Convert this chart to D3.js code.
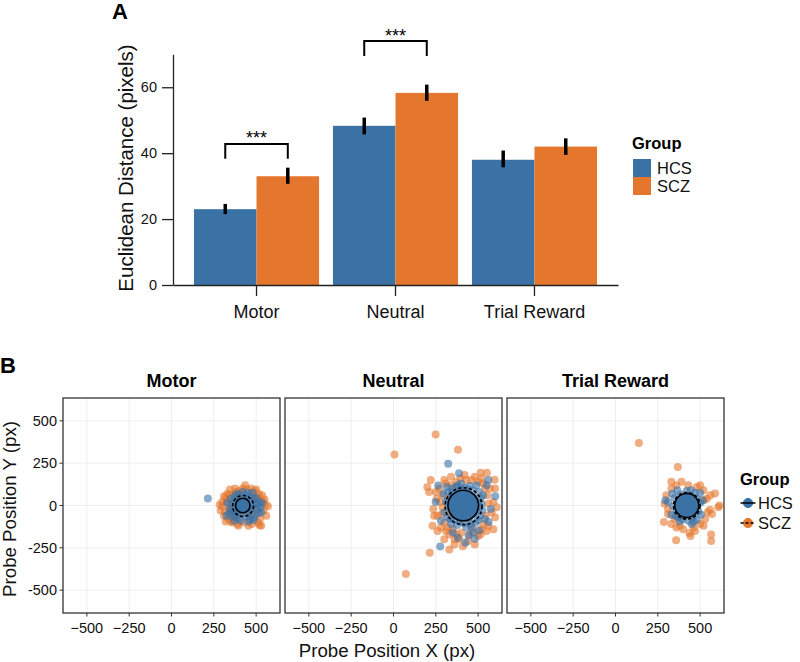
<!DOCTYPE html>
<html>
<head>
<meta charset="utf-8">
<script src="https://cdn.jsdelivr.net/npm/d3@7"></script>
<style>
  html, body { margin: 0; padding: 0; background: #fff; }
  svg { display: block; font-family: "Liberation Sans", Arial, Helvetica, sans-serif; }
</style>
</head>
<body>
<svg id="chart" width="800" height="662"></svg>
<script>
// ---------------- DATA ----------------
const categories = ["Motor", "Neutral", "Trial Reward"];
const groups = ["HCS", "SCZ"];
const colors = ["#3a72a5", "#e5762d"];

// Panel A: mean Euclidean distance (pixels) and error bar bounds
const hcsMeans = [23.0, 48.3, 38.0];
const sczMeans = [33.0, 58.3, 42.0];
const hcsLow = [21.5, 45.7, 35.7];
const hcsHigh = [24.6, 50.8, 40.8];
const sczLow = [30.7, 55.9, 39.5];
const sczHigh = [35.6, 60.8, 44.5];
const yTicksA = [0, 20, 40, 60];
// significance brackets: category, bracket top, leg bottom, label
const sigCats = ["Motor", "Neutral"];
const sigTop = [42.8, 74.0];
const sigBottom = [38.3, 69.5];
const sigLabels = ["***", "***"];

// Panel B: probe positions (px)
const axisTicksB = [-500, -250, 0, 250, 500];

const motorHCS = [[215,42],[425,0],[445,10],[400,15],[455,-20],[410,-30],[470,25],[380,-10],[435,45],[415,-50],[480,-5],[370,30],[460,50],[390,-45],[485,40],[365,-35],[495,10],[355,5],[440,-65],[405,60],[475,-50],[375,55],[505,-25],[345,-20],[450,75],[395,-75],[500,45],[350,40],[510,5],[340,-45],[465,-80],[420,80],[515,-45],[385,70],[490,-70],[360,-65],[520,20],[525,-10],[330,15],[480,75],[410,-90],[530,-40],[325,-60],[455,-95],[485,-85],[370,-90],[535,15],[430,25],[415,-20],[395,-5],[450,-40],[390,40],[470,-20],[375,-55],[440,60]];
const motorSCZ = [[290,-30],[300,20],[310,-60],[320,45],[330,70],[335,-80],[345,95],[350,-95],[360,-100],[375,100],[390,-110],[400,85],[420,100],[430,-100],[445,95],[470,100],[475,-110],[490,85],[500,95],[510,-100],[520,-115],[530,-120],[540,25],[545,-30],[555,5],[570,-5],[560,-60],[535,60],[515,70],[300,-5],[315,-35],[325,25],[340,60],[355,-55],[365,65],[380,-70],[395,-55],[460,-60],[480,55],[495,-55],[505,40],[525,-75],[550,35],[310,55],[285,5],[340,-10],[320,-95],[455,-120],[395,-120],[435,120],[380,80],[365,20],[350,-30],[500,-20],[520,50]];

const neutralHCS = [[412,0],[440,20],[385,-20],[430,-40],[395,40],[460,-10],[365,10],[420,60],[405,-65],[475,45],[350,-30],[445,-75],[380,75],[490,-35],[340,50],[470,90],[360,-85],[500,20],[330,-10],[420,105],[415,-105],[510,-60],[325,80],[505,80],[320,-70],[455,-110],[370,110],[520,10],[310,20],[375,-115],[485,-100],[450,115],[350,100],[525,-30],[300,-40],[340,-110],[530,60],[315,110],[490,120],[400,130],[430,-130],[540,-80],[295,70],[395,-95],[440,95],[505,-10],[320,30],[360,-50],[470,-50],[400,95],[335,-80],[500,-85],[515,45],[345,75],[460,-125],[380,120],[323,246],[387,191],[276,-242],[264,118],[249,20],[601,55],[562,-98],[505,-148],[443,-175],[425,-220],[480,-196],[350,-160],[550,120],[575,-20],[280,-90],[560,150],[380,-190],[470,-160]];
const neutralSCZ = [[249,419],[6,301],[381,329],[73,-405],[214,-279],[515,193],[552,193],[597,152],[200,110],[210,80],[330,-260],[360,-230],[300,-200],[550,-150],[600,-70],[590,-140],[230,-120],[260,-150],[240,-60],[220,150],[300,150],[340,170],[420,180],[480,170],[520,160],[570,100],[590,20],[580,-40],[560,-120],[500,-180],[440,-210],[390,-200],[330,-170],[280,-130],[260,-60],[255,40],[270,100],[290,-10],[310,130],[460,150],[530,130],[555,60],[545,-60],[520,-140],[470,-140],[400,-160],[350,-140],[300,-100],[290,60],[320,-40],[330,40],[370,140],[430,150],[500,140],[540,100],[560,10],[530,-110],[450,-170],[370,-170],[320,-130],[285,-50],[275,20],[340,120],[395,160],[515,-170],[600,100],[610,-10],[250,80],[235,-20],[310,-150],[410,-240],[360,-200],[480,-230]];

const rewardHCS = [[421,0],[445,20],[395,-15],[435,-35],[400,35],[465,-5],[375,10],[425,55],[410,-60],[480,40],[360,-30],[455,-70],[385,65],[490,-35],[350,45],[470,75],[370,-70],[500,15],[340,-5],[420,85],[430,-90],[505,-55],[335,70],[500,74],[330,-55],[460,-95],[295,31],[310,20],[380,-95],[480,-85],[445,90],[365,90],[515,30],[450,-110],[400,-40],[450,50],[395,-80],[470,-40],[355,-60]];
const rewardSCZ = [[138,369],[368,228],[286,-97],[358,-205],[437,-162],[443,-180],[565,-171],[565,-210],[588,71],[614,0],[607,-10],[570,-50],[558,-25],[523,33],[290,10],[360,120],[390,140],[330,100],[300,60],[310,-50],[330,-110],[360,-130],[400,-140],[460,-130],[500,-110],[530,-80],[540,40],[560,60],[520,90],[480,110],[430,120],[545,-40],[310,-20],[350,-80],[500,120],[330,140],[380,-120],[520,-120],[470,-150]];

// group mean positions per condition
const hcsCenters = [[421,0],[412,0],[421,0]];
const sczCenters = [[423,-3],[414,-4],[421,-2]];

// ---------------- DRAW ----------------
const svg = d3.select("#chart");
svg.append("rect").attr("width", 800).attr("height", 662).attr("fill", "#fff");
const ink = "#222";

// ===== Panel A =====
svg.append("text").attr("x", 112).attr("y", 19).attr("font-size", 22).attr("font-weight", "bold").text("A");

const yA = d3.scaleLinear().domain([0, 70]).range([285, 54.3]);
const x0 = d3.scaleBand().domain(categories).range([173, 618]).paddingInner(0.1).paddingOuter(0.151);
const x1 = d3.scaleBand().domain(groups).range([0, x0.bandwidth()]);
const color = d3.scaleOrdinal().domain(groups).range(colors);

const barData = [];
categories.forEach((c, i) => {
  barData.push({cat: c, grp: "HCS", v: hcsMeans[i], lo: hcsLow[i], hi: hcsHigh[i]});
  barData.push({cat: c, grp: "SCZ", v: sczMeans[i], lo: sczLow[i], hi: sczHigh[i]});
});

const gA = svg.append("g");
gA.selectAll("rect.bar").data(barData).join("rect")
  .attr("class", "bar")
  .attr("x", d => x0(d.cat) + x1(d.grp))
  .attr("y", d => yA(d.v))
  .attr("width", x1.bandwidth())
  .attr("height", d => yA(0) - yA(d.v))
  .attr("fill", d => color(d.grp));

gA.selectAll("line.err").data(barData).join("line")
  .attr("class", "err")
  .attr("x1", d => x0(d.cat) + x1(d.grp) + x1.bandwidth() / 2)
  .attr("x2", d => x0(d.cat) + x1(d.grp) + x1.bandwidth() / 2)
  .attr("y1", d => yA(d.lo)).attr("y2", d => yA(d.hi))
  .attr("stroke", "#000").attr("stroke-width", 3.5);

// axes A
const yAxisA = d3.axisLeft(yA).tickValues(yTicksA).tickSize(11).tickSizeOuter(0).tickPadding(5);
const gy = gA.append("g").attr("transform", "translate(173,0)").call(yAxisA);
gy.select(".domain").attr("stroke", ink).attr("stroke-width", 1.3);
gy.selectAll(".tick line").attr("stroke", ink).attr("stroke-width", 1.3);
gy.selectAll(".tick text").attr("font-size", 14.5).attr("fill", "#111").attr("font-family", "Liberation Sans, Arial, sans-serif");

const xAxisA = d3.axisBottom(x0).tickSize(11).tickSizeOuter(0).tickPadding(9);
const gx = gA.append("g").attr("transform", `translate(0,${yA(0)})`).call(xAxisA);
gx.select(".domain").attr("stroke", ink).attr("stroke-width", 1.3);
gx.selectAll(".tick line").attr("stroke", ink).attr("stroke-width", 1.3);
gx.selectAll(".tick text").attr("font-size", 18).attr("fill", "#111").attr("font-family", "Liberation Sans, Arial, sans-serif");

gA.append("text")
  .attr("transform", `translate(133,168) rotate(-90)`)
  .attr("text-anchor", "middle").attr("font-size", 20.5).attr("fill", "#111")
  .text("Euclidean Distance (pixels)");

// significance brackets
sigCats.forEach((c, i) => {
  const xa = x0(c) + x1("HCS") + x1.bandwidth() / 2;
  const xb = x0(c) + x1("SCZ") + x1.bandwidth() / 2;
  gA.append("path")
    .attr("d", `M${xa},${yA(sigBottom[i])}V${yA(sigTop[i])}H${xb}V${yA(sigBottom[i])}`)
    .attr("fill", "none").attr("stroke", "#000").attr("stroke-width", 2);
  gA.append("text").attr("x", (xa + xb) / 2).attr("y", yA(sigTop[i]) + 0.5)
    .attr("text-anchor", "middle").attr("font-size", 18).text(sigLabels[i]);
});

// legend A
const legA = svg.append("g");
legA.append("text").attr("x", 632).attr("y", 149).attr("font-size", 16.5).attr("font-weight", "bold").text("Group");
groups.forEach((g, i) => {
  legA.append("rect").attr("x", 633).attr("y", 159 + i * 18).attr("width", 18).attr("height", 18).attr("fill", color(g));
  legA.append("text").attr("x", 657).attr("y", 174 + i * 18).attr("font-size", 16.5).attr("fill", "#111").text(g);
});

// ===== Panel B =====
svg.append("text").attr("x", 0).attr("y", 373).attr("font-size", 22).attr("font-weight", "bold").text("B");

const panelW = 217, panelGap = 5, panelLeft = 63, panelTop = 398, panelBottom = 613;
const pointsB = [[motorHCS, motorSCZ], [neutralHCS, neutralSCZ], [rewardHCS, rewardSCZ]];
const rScale = d3.scaleLinear().domain([0, 60]).range([0, 19]);
const yB = d3.scaleLinear().domain([-635, 635]).range([panelBottom, panelTop]);

const defs = svg.append("defs");

categories.forEach((cat, p) => {
  const left = panelLeft + p * (panelW + panelGap);
  const xB = d3.scaleLinear().domain([-641, 641]).range([left, left + panelW]);
  const g = svg.append("g");
  defs.append("clipPath").attr("id", "clip" + p).append("rect")
    .attr("x", left).attr("y", panelTop).attr("width", panelW).attr("height", panelBottom - panelTop);

  // grid
  g.selectAll("line.gx").data(axisTicksB).join("line")
    .attr("x1", d => xB(d)).attr("x2", d => xB(d)).attr("y1", panelTop).attr("y2", panelBottom)
    .attr("stroke", "#ececec").attr("stroke-width", 0.9);
  g.selectAll("line.gy").data(axisTicksB).join("line")
    .attr("y1", d => yB(d)).attr("y2", d => yB(d)).attr("x1", left).attr("x2", left + panelW)
    .attr("stroke", "#ececec").attr("stroke-width", 0.9);

  const inner = g.append("g").attr("clip-path", `url(#clip${p})`);
  // points: SCZ then HCS
  [1, 0].forEach(gi => {
    inner.selectAll(null).data(pointsB[p][gi]).join("circle")
      .attr("cx", d => xB(d[0])).attr("cy", d => yB(d[1])).attr("r", 4)
      .attr("fill", colors[gi]).attr("fill-opacity", 0.6);
  });
  // group means: SCZ dashed ring, HCS solid filled
  const sc = sczCenters[p], hc = hcsCenters[p];
  inner.append("circle").attr("cx", xB(sc[0])).attr("cy", yB(sc[1])).attr("r", rScale(sczMeans[p]))
    .attr("fill", "none").attr("stroke", "#000").attr("stroke-width", 1.6).attr("stroke-dasharray", "3.2,2.2");
  inner.append("circle").attr("cx", xB(hc[0])).attr("cy", yB(hc[1])).attr("r", rScale(hcsMeans[p]))
    .attr("fill", colors[0]).attr("stroke", "#000").attr("stroke-width", 1.6);

  // border
  g.append("rect").attr("x", left).attr("y", panelTop).attr("width", panelW).attr("height", panelBottom - panelTop)
    .attr("fill", "none").attr("stroke", "#333").attr("stroke-width", 1.3);

  // x ticks
  g.selectAll("line.xt").data(axisTicksB).join("line")
    .attr("x1", d => xB(d)).attr("x2", d => xB(d)).attr("y1", panelBottom).attr("y2", panelBottom + 3.5)
    .attr("stroke", "#333").attr("stroke-width", 1);
  g.selectAll("text.xl").data(axisTicksB).join("text")
    .attr("x", d => xB(d)).attr("y", 633).attr("text-anchor", "middle").attr("font-size", 14.5).attr("fill", "#111")
    .text(d => d < 0 ? "\u2212" + Math.abs(d) : String(d));

  // panel title
  g.append("text").attr("x", left + panelW / 2).attr("y", 387).attr("text-anchor", "middle")
    .attr("font-size", 18).attr("font-weight", "bold").text(cat);

  if (p === 0) {
    g.selectAll("line.yt").data(axisTicksB).join("line")
      .attr("x1", left - 3.5).attr("x2", left).attr("y1", d => yB(d)).attr("y2", d => yB(d))
      .attr("stroke", "#333").attr("stroke-width", 1);
    g.selectAll("text.yl").data(axisTicksB).join("text")
      .attr("x", left - 6).attr("y", d => yB(d)).attr("dy", "0.36em").attr("text-anchor", "end")
      .attr("font-size", 14.5).attr("fill", "#111").text(d => String(d));
  }
});

// axis titles B
svg.append("text").attr("x", 387).attr("y", 657).attr("text-anchor", "middle").attr("font-size", 18.7).attr("fill", "#111")
  .text("Probe Position X (px)");
svg.append("text").attr("transform", "translate(16,509) rotate(-90)").attr("text-anchor", "middle")
  .attr("font-size", 18.7).attr("fill", "#111").text("Probe Position Y (px)");

// legend B
const legB = svg.append("g");
legB.append("text").attr("x", 740).attr("y", 485).attr("font-size", 16.5).attr("font-weight", "bold").text("Group");
groups.forEach((g, i) => {
  const yy = 503 + i * 20;
  legB.append("circle").attr("cx", 748).attr("cy", yy).attr("r", 4.6).attr("fill", colors[i]).attr("stroke", colors[i]);
  legB.append("line").attr("x1", 740.5).attr("x2", 755.5).attr("y1", yy).attr("y2", yy)
    .attr("stroke", "#000").attr("stroke-width", 1.5).attr("stroke-dasharray", i === 1 ? "3,2" : null);
  legB.append("text").attr("x", 758).attr("y", yy + 6).attr("font-size", 16.5).attr("fill", "#111").text(g);
});
</script>
</body>
</html>
